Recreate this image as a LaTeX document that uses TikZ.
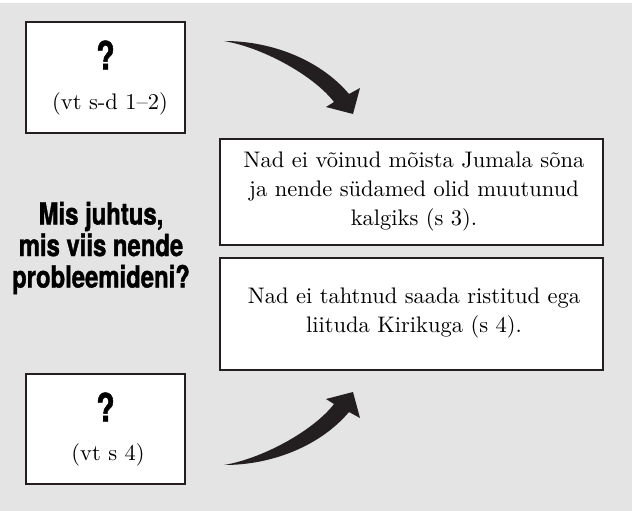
\documentclass[tikz,border=0pt]{standalone}
\usepackage{fontspec}
\setmainfont{lmroman10-regular.otf}
\usepackage{tikz}
\newfontfamily\headfont[FakeStretch=0.78, FakeBold=1.2]{TeX Gyre Heros}
\definecolor{panelgray}{RGB}{228,228,228}
\definecolor{inkblack}{RGB}{35,31,32}
% tapered bent arrow, drawn in picture units
\newcommand{\bentarrow}{%
  \fill[arrowfill] (224,41) .. controls (275,41) and (322,62) .. (349,94)
    -- (360,88) -- (353,114) -- (326,107) -- (334,102)
    .. controls (315,77) and (265,48) .. (224,41) -- cycle;}

\begin{document}
\begin{tikzpicture}[x=1pt, y=-1pt,
  infobox/.style={draw=inkblack, line width=1.3pt, fill=white, inner sep=0pt},
  bodytext/.style={font=\fontsize{22.5}{29}\selectfont, align=center, text=black},
  qmark/.style={font=\headfont\bfseries\fontsize{39}{39}\selectfont},
  arrowfill/.style={fill=inkblack}]
  \fill[white] (0,0) rectangle (632,3);
  \fill[panelgray] (0,3) rectangle (632,511);
  \useasboundingbox (0,0) rectangle (632,511);

  % left column
  \node[infobox, minimum width=159pt, minimum height=111pt] (qtop) at (105.5,77.5) {};
  \node[qmark] (qtopmark) at (105.5,55) {?};
  \node[bodytext] (qtopref) at (110,104) {(vt s-d 1--2)};

  \node[font=\headfont\bfseries\fontsize{30.6}{31.5}\selectfont, align=center]
    (question) at (101,248) {Mis juhtus,\\mis viis nende\\probleemideni?};

  \node[infobox, minimum width=159pt, minimum height=110pt] (qbottom) at (105.5,429) {};
  \node[qmark] (qbottommark) at (105.5,407) {?};
  \node[bodytext] (qbottomref) at (108,455) {(vt s 4)};

  % right column
  \node[infobox, minimum width=383pt, minimum height=106pt] (cause) at (411.5,192) {};
  \node[bodytext] (causetext) at (414,192)
    {Nad ei võinud mõista Jumala sõna\\ja nende südamed olid muutunud\\kalgiks (s 3).};
  \node[infobox, minimum width=383pt, minimum height=112pt] (refusal) at (411.5,314) {};
  \node[bodytext] (refusaltext) at (414,313)
    {Nad ei tahtnud saada ristitud ega\\liituda Kirikuga (s 4).};

  % arrows
  \bentarrow
  \begin{scope}[shift={(0,506)}, yscale=-1]
    \bentarrow
  \end{scope}
\end{tikzpicture}
\end{document}
